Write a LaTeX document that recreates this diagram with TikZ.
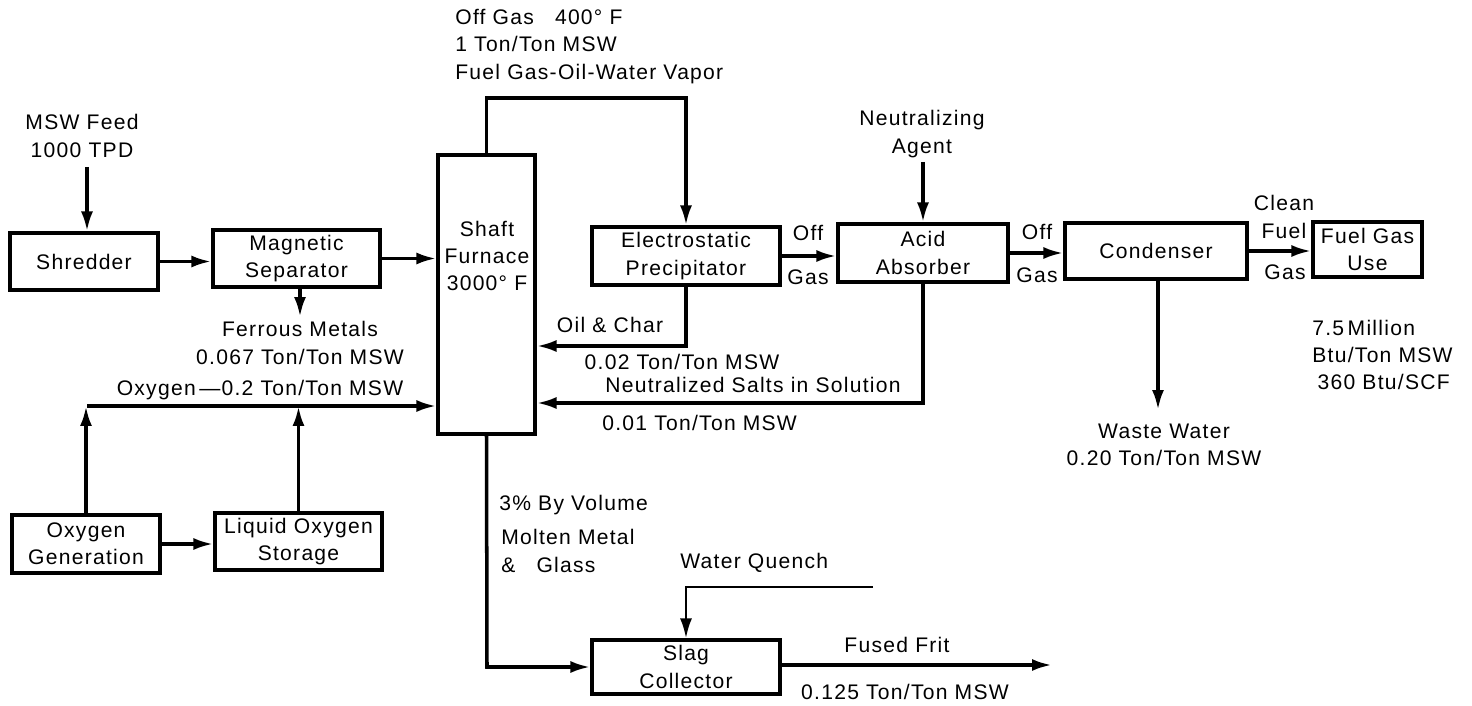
\documentclass[tikz,border=0pt]{standalone}
\usepackage{fontspec}
\setmainfont{Liberation Sans}[LetterSpace=6]
\usetikzlibrary{arrows.meta,positioning,calc}
\tikzset{
  unit/.style={draw, line width=1.8pt, align=center, inner sep=0pt},
  boxsize/.style 2 args={minimum width=#1*0.02cm, minimum height=#2*0.02cm},
  flow/.style={-{Latex[length=4mm,width=2.4mm]}, line width=2pt},
  txt/.style={align=center, inner sep=0pt}
}

\begin{document}
\begin{tikzpicture}[x=0.02cm, y=-0.02cm, font=\fontsize{12}{15.5}\selectfont]
  \useasboundingbox (0,0) rectangle (1472,706);

  \node[unit, boxsize={148}{57}] (shredder) at (84,261.5) {Shredder};
  \node[unit, boxsize={167}{57}] (magsep) at (296.5,258.5) {Magnetic\\Separator};
  \node[unit, boxsize={97}{279}] (furnace) at (486.5,294.5) {};
  \node[txt] (furnacetxt) at (487,256) {Shaft\\Furnace\\3000° F};
  \node[unit, boxsize={188}{58}] (esp) at (686,256) {Electrostatic\\Precipitator};
  \node[unit, boxsize={170}{58}] (absorber) at (923,253) {Acid\\Absorber};
  \node[unit, boxsize={182}{56}] (condenser) at (1156,251) {Condenser};
  \node[unit, boxsize={109}{55}] (fuelgas) at (1367.5,249.5) {Fuel Gas\\Use};
  \node[unit, boxsize={148}{58}] (oxgen) at (86,544) {Oxygen\\Generation};
  \node[unit, boxsize={167}{57}] (lox) at (298.5,541.5) {Liquid Oxygen\\Storage};
  \node[unit, boxsize={188}{54}] (slag) at (686,667) {Slag\\Collector};

  \node[txt] (mswtxt) at (82,136) {MSW Feed\\1000 TPD};
  \node[txt] (ferroustxt) at (300,343) {Ferrous Metals\\0.067 Ton/Ton MSW};
  \node[txt] (oxytxt) at (260,390) {Oxygen\,—0.2 Ton/Ton MSW};
  \node[txt, align=left, anchor=north west] (offgastxt) at (455,9) {Off Gas\quad 400° F\\1 Ton/Ton MSW\\Fuel Gas-Oil-Water Vapor};
  \node[txt] (oiltxt) at (610,325) {Oil \& Char};
  \node[txt] (oilrate) at (682,362) {0.02 Ton/Ton MSW};
  \node[txt] (offa) at (808,233) {Off};
  \node[txt] (gasa) at (808,277) {Gas};
  \node[txt] (offb) at (1037,232) {Off};
  \node[txt] (gasb) at (1037,275) {Gas};
  \node[txt] (neutxt) at (922,134) {Neutralizing\\Agent};
  \node[txt, anchor=west] (salttxt) at (605,385) {Neutralized Salts in Solution};
  \node[txt, anchor=west] (saltrate) at (602,423) {0.01 Ton/Ton MSW};
  \node[txt] (wastetxt) at (1164,445) {Waste Water\\0.20 Ton/Ton MSW};
  \node[txt] (cleantxt) at (1284,217) {Clean\\Fuel};
  \node[txt] (gasc) at (1285,272) {Gas};
  \node[txt, align=left, anchor=west] (heattxt) at (1312,355) {7.5\,Million\\Btu/Ton MSW\\\hspace{3pt}360 Btu/SCF};
  \node[txt, anchor=west] (voltxt) at (499,505) {3\% By Volume};
  \node[txt, align=left, anchor=west] (moltentxt) at (501,551) {Molten Metal\\\&\quad Glass};
  \node[txt, anchor=west] (quenchtxt) at (680,563) {Water Quench};
  \node[txt] (frittxt) at (897,645) {Fused Frit};
  \node[txt] (fritrate) at (905,692) {0.125 Ton/Ton MSW};

  \coordinate (mswin) at (87,167);
  \coordinate (ferout) at (300,317);
  \coordinate (oxy) at (87,406);
  \coordinate (offtop) at (686,98);
  \coordinate (oil) at (686,346);
  \coordinate (neuin) at (923,162);
  \coordinate (salt) at (923,403);
  \coordinate (wout) at (1158,410);
  \coordinate (molten) at (487,667);
  \coordinate (quench) at (873,587);
  \coordinate (fritout) at (1052,665);

  \draw[flow] (mswin) -- (mswin |- shredder.north);
  \draw[flow] (shredder.east) -- (shredder.east -| magsep.west);
  \draw[flow] (magsep.east) -- (magsep.east -| furnace.west);
  \draw[flow] (magsep.south -| ferout) -- (ferout);
  \draw[flow] (oxgen.north) -- (oxgen.north |- oxy);
  \draw[flow] (lox.north) -- (lox.north |- oxy);
  \draw[flow] (oxy) -- (oxy -| furnace.west);
  \draw[flow] (oxgen.east) -- (oxgen.east -| lox.west);
  \draw[flow] (furnace.north) |- (offtop) -- (esp.north);
  \draw[flow] (esp.south) -- (oil) -- (oil -| furnace.east);
  \draw[flow] (esp.east) -- (esp.east -| absorber.west);
  \draw[flow] (neuin) -- (absorber.north);
  \draw[flow] (absorber.south) -- (salt) -- (salt -| furnace.east);
  \draw[flow] (absorber.east) -- (absorber.east -| condenser.west);
  \draw[flow] (condenser.south -| wout) -- (wout);
  \draw[flow] (condenser.east) -- (condenser.east -| fuelgas.west);
  \draw[flow] (furnace.south) -- (molten) -- (molten -| slag.west);
  \draw[flow, line width=1.5pt] (quench) -| (slag.north);
  \draw[flow] (slag.east |- fritout) -- (fritout);
\end{tikzpicture}
\end{document}
